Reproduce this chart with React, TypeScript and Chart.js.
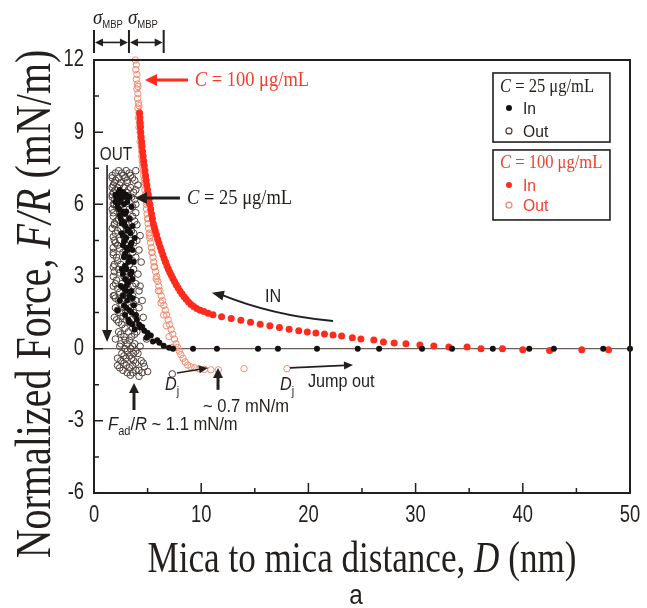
import React, { useEffect, useRef } from "react";
import { Chart, registerables } from "chart.js";

Chart.register(...registerables);

// ---------- axis ticks ----------
const xTicks = [0, 10, 20, 30, 40, 50];
const xMinorTicks = [5, 15, 25, 35, 45];
const yTicks = [-6, -3, 0, 3, 6, 9, 12];
const yMinorTicks = [-4.5, -1.5, 1.5, 4.5, 7.5, 10.5];

// ---------- C = 25 ug/mL, approach (In, filled black) ----------
const in25D = [
  2.4, 2.3, 2.7, 2.0, 3.0, 2.1, 2.9, 3.3, 2.5, 2.4, 3.1, 2.8, 2.2, 3.5, 2.7, 3.0, 2.4, 2.5, 3.3, 2.8,
  2.9, 3.6, 3.2, 2.6, 3.4, 3.0, 3.8, 2.8, 2.7, 3.4, 3.1, 3.6, 2.9, 2.8, 3.3, 3.2, 3.7, 2.9, 2.6, 3.0,
  3.4, 2.7, 2.9, 3.6, 3.2, 2.5, 3.0, 3.0, 3.5, 2.7, 3.3, 2.4, 3.1, 2.8, 3.7, 2.2, 3.3, 2.9, 3.9, 3.2,
  4.0, 3.6, 4.2, 4.3, 4.7, 5.0, 5.3, 5.9, 6.1, 6.5, 7.0,
  2.2, 2.6, 2.0, 2.35, 2.9, 2.6, 3.1, 2.7, 3.5, 3.0, 3.3, 3.5, 3.1, 2.8, 3.6, 3.0, 3.5, 3.3, 3.8, 4.5,
  4.9, 5.5,
  7.37, 9.24, 11.47, 15.3, 17.16, 20.8, 24.6, 26.6, 30.6, 33.4, 37.2, 40.6, 42.9, 47.5, 50.0,
];
const in25F = [
  6.6, 6.5, 6.5, 6.4, 6.4, 6.3, 6.3, 6.3, 6.2, 6.1, 6.1, 6.0, 5.9, 5.9, 5.7, 5.7, 5.55, 5.4, 5.4, 5.25,
  5.1, 5.1, 4.95, 4.8, 4.8, 4.6, 4.6, 4.45, 4.3, 4.3, 4.1, 4.1, 3.95, 3.8, 3.8, 3.6, 3.6, 3.45, 3.3, 3.3,
  3.1, 3.1, 2.9, 2.9, 2.75, 2.6, 2.6, 2.4, 2.4, 2.2, 2.2, 2.0, 2.0, 1.8, 1.8, 1.6, 1.6, 1.4, 1.4, 1.2,
  1.2, 1.0, 1.0, 0.9, 0.75, 0.65, 0.55, 0.35, 0.25, 0.12, 0.04,
  6.2, 6.35, 6.1, 5.8, 5.6, 5.2, 4.9, 4.7, 4.4, 4.2, 3.7, 3.2, 2.8, 2.5, 2.1, 1.7, 1.5, 1.1, 0.8, 0.9,
  0.45, 0.3,
  0, 0, 0, 0, 0, 0, 0, 0, 0, 0, 0, 0, 0, 0, 0,
];

// ---------- C = 25 ug/mL, separation (Out, open dark) ----------
const out25D = [
  2.0, 2.6, 3.3, 1.7, 2.3, 2.9, 3.6, 1.9, 2.5, 3.1, 1.7, 2.2, 2.8, 3.4, 1.8, 3.0, 3.7, 1.7, 2.1, 3.5,
  1.9, 2.6, 3.9, 1.7, 2.3, 3.3, 1.8, 2.9, 3.6, 2.1, 3.8, 1.7, 2.5, 3.2, 2.0, 3.7, 1.9, 2.4, 3.4, 4.0,
  2.2, 3.0, 1.8, 2.7, 3.6, 2.1, 3.9, 1.9, 2.5, 3.3, 2.3, 3.7, 1.8, 2.8, 3.5, 2.0, 2.6, 3.9, 2.2, 3.2,
  1.9, 2.7, 3.6, 2.3, 3.9, 2.0, 2.9, 3.4, 2.4, 3.7, 2.1, 3.0, 3.5, 2.6, 3.8, 2.3, 3.2, 4.0, 2.8, 3.5,
  2.5, 3.1, 3.8, 2.9, 3.4, 2.6, 3.7, 2.2, 3.0, 3.5, 2.8, 3.9, 2.4, 3.3, 3.1, 3.6, 4.5, 3.4, 7.3,
  2.3, 3.0, 3.9, 1.7, 2.7, 3.4, 2.0, 3.1, 3.8, 1.8, 2.4, 2.0, 3.2, 3.9, 1.7, 2.6, 1.9, 3.8, 2.1, 3.6,
  1.8, 2.6, 3.9, 2.3, 3.3, 1.9, 3.0, 4.0, 2.2, 3.5, 1.8, 2.8, 2.0, 3.7, 2.4, 3.2, 1.8, 2.9, 2.2, 3.6,
  1.8, 2.9, 2.4, 3.4, 2.1, 3.3, 1.8, 3.6, 2.4, 3.0, 2.0, 3.4, 2.6, 3.7, 2.2, 3.1, 2.7, 3.9, 2.3, 3.3,
  2.9, 3.6, 2.5, 3.8, 2.9, 3.3, 2.4, 3.6, 3.1, 3.9, 2.8, 3.3, 2.5, 3.7, 3.0, 3.6, 2.7, 3.9, 4.2,
  4.1, 4.3, 4.2, 4.4, 4.1, 4.3, 4.2, 4.5, 4.2, 4.6, 4.4, 4.9, 4.3, 4.1, 4.6, 4.4, 5.0, 4.2, 4.7,
  1.8, 1.9, 1.8, 1.9, 1.8, 1.9, 2.0, 2.2,
];
const out25F = [
  7.3, 7.3, 7.3, 7.1, 7.1, 7.1, 7.1, 6.9, 6.9, 6.9, 6.7, 6.7, 6.7, 6.7, 6.5, 6.5, 6.5, 6.3, 6.3, 6.3,
  6.0, 6.0, 6.0, 5.8, 5.8, 5.8, 5.5, 5.5, 5.5, 5.3, 5.3, 5.0, 5.0, 5.0, 4.8, 4.8, 4.5, 4.5, 4.5, 4.5,
  4.3, 4.3, 4.0, 4.0, 4.0, 3.8, 3.8, 3.5, 3.5, 3.5, 3.3, 3.3, 3.0, 3.0, 3.0, 2.7, 2.7, 2.7, 2.5, 2.5,
  2.2, 2.2, 2.2, 2.0, 2.0, 1.7, 1.7, 1.7, 1.5, 1.5, 1.2, 1.2, 1.2, 1.0, 1.0, 0.7, 0.7, 0.7, 0.5, 0.5,
  0.2, 0.2, 0.2, 0.0, 0.0, -0.2, -0.2, -0.4, -0.4, -0.4, -0.6, -0.6, -0.8, -0.8, -1.0, -1.0, -1.0, -1.1, -1.05,
  7.4, 7.4, 7.4, 7.2, 7.2, 7.2, 7.0, 7.0, 7.0, 6.8, 6.8, 6.6, 6.6, 6.6, 6.4, 6.4, 6.2, 6.2, 5.9, 5.9,
  5.65, 5.65, 5.65, 5.4, 5.4, 5.15, 5.15, 5.15, 4.9, 4.9, 4.65, 4.65, 4.4, 4.4, 4.15, 4.15, 3.9, 3.9, 3.65, 3.65,
  3.4, 3.4, 3.15, 3.15, 2.85, 2.85, 2.6, 2.6, 2.35, 2.35, 2.1, 2.1, 1.85, 1.85, 1.6, 1.6, 1.35, 1.35, 1.1, 1.1,
  0.85, 0.85, 0.6, 0.6, 0.35, 0.35, 0.1, 0.1, -0.1, -0.1, -0.3, -0.3, -0.5, -0.5, -0.7, -0.7, -0.9, -0.9, -0.9,
  6.8, 4.7, 4.1, 3.6, 3.1, 2.6, 2.4, 2.0, 1.7, 1.3, 0.9, 0.4, 0.1, -0.2, -0.6, -0.5, -0.95, -1.15, -0.75,
  6.0, 5.2, 4.2, 3.2, 2.2, 1.3, 0.4, -0.7,
];

// ---------- C = 100 ug/mL, approach (In, filled red) ----------
const in100D = [
  4.25, 4.28, 4.3, 4.33, 4.36, 4.4, 4.44, 4.48, 4.53, 4.58, 4.63, 4.69, 4.75, 4.81, 4.87, 4.93, 5.0, 5.07,
  5.14, 5.21, 5.29, 5.37, 5.45, 5.53, 5.62, 5.72, 5.83, 5.94, 6.06, 6.18, 6.3, 6.42, 6.54, 6.67, 6.8, 6.93,
  7.07, 7.21, 7.36, 7.51, 7.67, 7.84, 8.02, 8.2, 8.4, 8.6, 8.82, 9.05, 9.3, 9.58, 9.9, 10.25, 10.65, 11.1,
  11.9, 12.8, 13.7, 14.6, 15.5, 16.4, 17.3, 18.2, 19.1, 19.9, 20.7, 21.5, 22.3, 23.1, 24.1, 24.9, 26.1, 27.0,
  28.0, 29.1, 30.4, 31.7, 33.1, 34.8, 36.1, 38.1, 40.0, 42.5, 45.5, 48.0,
];
const in100F = [
  9.8, 9.6, 9.4, 9.2, 9.0, 8.8, 8.6, 8.4, 8.2, 8.0, 7.8, 7.6, 7.4, 7.2, 7.0, 6.8, 6.6, 6.4,
  6.2, 6.0, 5.8, 5.6, 5.4, 5.2, 5.05, 4.9, 4.72, 4.55, 4.38, 4.22, 4.06, 3.9, 3.75, 3.6, 3.45, 3.31,
  3.18, 3.05, 2.92, 2.79, 2.66, 2.53, 2.4, 2.28, 2.16, 2.05, 1.94, 1.84, 1.75, 1.67, 1.6, 1.54, 1.47, 1.41,
  1.33, 1.25, 1.18, 1.1, 1.02, 0.95, 0.88, 0.81, 0.75, 0.69, 0.65, 0.61, 0.57, 0.53, 0.45, 0.4, 0.36, 0.28,
  0.24, 0.2, 0.15, 0.11, 0.07, 0.07, 0.0, 0.0, -0.05, -0.08, -0.05, -0.05,
];

// ---------- C = 100 ug/mL, separation (Out, open red) ----------
const out100D = [
  3.85, 3.95, 3.9, 4.0, 3.95, 4.05, 4.0, 4.1, 4.05, 4.15, 4.1, 4.2, 4.15, 4.25, 4.2, 4.3, 4.35, 4.3,
  4.4, 4.45, 4.45, 4.5, 4.55, 4.6, 4.62, 4.68, 4.7, 4.75, 4.8, 4.82, 4.88, 4.9, 4.95, 5.0, 5.05, 5.1,
  5.15, 5.2, 5.28, 5.35, 5.42, 5.5, 5.58, 5.66, 5.75, 5.85, 5.95, 6.05, 6.15, 6.27, 6.39, 6.52, 6.65, 6.78,
  6.92, 7.05, 7.2, 7.35, 7.5, 7.65, 7.8, 7.95, 8.1, 8.3, 8.5, 8.75, 9.05, 9.4, 9.8, 10.3, 10.9, 11.6,
  14.0, 18.0,
  4.1, 4.2, 4.35, 4.45, 4.6, 4.75, 4.9, 5.05, 5.2, 5.4, 5.6, 5.8, 6.0, 6.25, 6.5, 6.75, 7.0, 7.3,
];
const out100F = [
  12.0, 11.8, 11.6, 11.4, 11.2, 11.0, 10.8, 10.6, 10.4, 10.2, 10.0, 9.8, 9.6, 9.4, 9.2, 9.0, 8.8, 8.6,
  8.4, 8.2, 8.0, 7.8, 7.6, 7.4, 7.2, 7.0, 6.8, 6.6, 6.4, 6.2, 6.0, 5.8, 5.6, 5.4, 5.2, 5.0,
  4.8, 4.6, 4.4, 4.2, 4.0, 3.8, 3.6, 3.4, 3.2, 3.0, 2.8, 2.6, 2.4, 2.2, 2.0, 1.8, 1.6, 1.4,
  1.2, 1.0, 0.8, 0.6, 0.4, 0.2, 0.05, -0.1, -0.25, -0.4, -0.55, -0.68, -0.76, -0.8, -0.84, -0.86, -0.88, -0.88,
  -0.83, -0.83,
  10.9, 10.1, 9.3, 8.5, 7.7, 6.9, 6.1, 5.4, 4.7, 4.0, 3.4, 2.9, 2.4, 1.9, 1.4, 0.95, 0.5, 0.05,
];

// ---------- styles ----------
const RED = "#ff2b1c";
const RED_TEXT = "#f0402c";
const RED_OPEN = "#f5876c";
const BLACK = "#141010";
const DARK_OPEN = "#4e403a";
const INK = "#231f1c";
const SERIF = "'Liberation Serif', 'Times New Roman', serif";
const SANS = "'Liberation Sans', Arial, sans-serif";

type Seg = { t: string; f: string; dy?: number; color?: string };

function rich(
  ctx: CanvasRenderingContext2D,
  segs: Seg[],
  x: number,
  y: number,
  opts: { color: string; sx?: number; align?: "left" | "center" | "right"; rot?: number; baseline?: CanvasTextBaseline }
) {
  ctx.save();
  ctx.translate(x, y);
  if (opts.rot) ctx.rotate(opts.rot);
  ctx.scale(opts.sx ?? 1, 1);
  let total = 0;
  for (const s of segs) {
    ctx.font = s.f;
    total += ctx.measureText(s.t).width;
  }
  let cx = opts.align === "center" ? -total / 2 : opts.align === "right" ? -total : 0;
  ctx.textAlign = "left";
  ctx.textBaseline = opts.baseline ?? "alphabetic";
  for (const s of segs) {
    ctx.font = s.f;
    ctx.fillStyle = s.color ?? opts.color;
    ctx.fillText(s.t, cx, s.dy ?? 0);
    cx += ctx.measureText(s.t).width;
  }
  ctx.restore();
}

function arrowHead(ctx: CanvasRenderingContext2D, x1: number, y1: number, x2: number, y2: number, len: number, half: number, color: string) {
  const a = Math.atan2(y2 - y1, x2 - x1);
  ctx.save();
  ctx.fillStyle = color;
  ctx.beginPath();
  ctx.moveTo(x2, y2);
  ctx.lineTo(x2 - len * Math.cos(a) + half * Math.sin(a), y2 - len * Math.sin(a) - half * Math.cos(a));
  ctx.lineTo(x2 - len * Math.cos(a) - half * Math.sin(a), y2 - len * Math.sin(a) + half * Math.cos(a));
  ctx.closePath();
  ctx.fill();
  ctx.restore();
}

function arrow(ctx: CanvasRenderingContext2D, x1: number, y1: number, x2: number, y2: number, color: string, lw: number, len: number, half: number) {
  const a = Math.atan2(y2 - y1, x2 - x1);
  ctx.save();
  ctx.strokeStyle = color;
  ctx.lineWidth = lw;
  ctx.beginPath();
  ctx.moveTo(x1, y1);
  ctx.lineTo(x2 - (len - 1) * Math.cos(a), y2 - (len - 1) * Math.sin(a));
  ctx.stroke();
  ctx.restore();
  arrowHead(ctx, x1, y1, x2, y2, len, half, color);
}

const decorPlugin = {
  id: "decor",
  beforeDatasetsDraw(chart: any) {
    const { ctx, chartArea: ca, scales } = chart;
    const y0 = scales.y.getPixelForValue(0);
    ctx.save();
    ctx.strokeStyle = "#6a5f5a";
    ctx.lineWidth = 1.2;
    ctx.beginPath();
    ctx.moveTo(ca.left, y0);
    ctx.lineTo(ca.right, y0);
    ctx.stroke();
    ctx.restore();
  },
  afterDatasetsDraw(chart: any) {
    const { ctx, chartArea: ca, scales } = chart;
    const X = (v: number) => scales.x.getPixelForValue(v);
    const Y = (v: number) => scales.y.getPixelForValue(v);

    // frame
    ctx.save();
    ctx.strokeStyle = INK;
    ctx.lineWidth = 2;
    ctx.strokeRect(ca.left, ca.top, ca.right - ca.left, ca.bottom - ca.top);
    // inward ticks
    ctx.lineWidth = 1.5;
    ctx.beginPath();
    for (const v of xTicks) { ctx.moveTo(X(v), ca.bottom); ctx.lineTo(X(v), ca.bottom - 10); }
    for (const v of xMinorTicks) { ctx.moveTo(X(v), ca.bottom); ctx.lineTo(X(v), ca.bottom - 5); }
    for (const v of yTicks) { ctx.moveTo(ca.left, Y(v)); ctx.lineTo(ca.left + 9, Y(v)); }
    for (const v of yMinorTicks) { ctx.moveTo(ca.left, Y(v)); ctx.lineTo(ca.left + 5, Y(v)); }
    ctx.stroke();
    ctx.restore();

    // tick labels
    const tf = `23px ${SANS}`;
    for (const v of xTicks) rich(ctx, [{ t: String(v), f: tf }], X(v), ca.bottom + 23, { color: INK, sx: 0.8, align: "center", baseline: "middle" });
    for (const v of yTicks) rich(ctx, [{ t: String(v), f: tf }], ca.left - 10, Y(v), { color: INK, sx: 0.8, align: "right", baseline: "middle" });

    // axis titles
    const tF = `45px ${SERIF}`;
    const tFi = `italic 45px ${SERIF}`;
    rich(ctx, [{ t: "Mica to mica distance, ", f: tF }, { t: "D", f: tFi }, { t: " (nm)", f: tF }], (ca.left + ca.right) / 2, 572, { color: INK, sx: 0.78, align: "center" });
    const yF = `50px ${SERIF}`;
    const yFi = `italic 50px ${SERIF}`;
    rich(ctx, [{ t: "Normalized Force, ", f: yF }, { t: "F/R", f: yFi }, { t: " (mN/m)", f: yF }], 50, 304, { color: INK, sx: 0.8, align: "center", rot: -Math.PI / 2 });

    // caption
    rich(ctx, [{ t: "a", f: `27px ${SANS}` }], 356, 604, { color: INK, sx: 0.9, align: "center" });

    // sigma_MBP brackets
    ctx.save();
    ctx.strokeStyle = INK;
    ctx.lineWidth = 2;
    const bx = [0, 3.26, 6.5].map(X);
    ctx.beginPath();
    for (const b of bx) { ctx.moveTo(b, Y(13.25)); ctx.lineTo(b, Y(12.29)); }
    ctx.stroke();
    ctx.restore();
    const ay = Y(12.73);
    for (let i = 0; i < 2; i++) {
      const a = bx[i] + 1, b = bx[i + 1] - 1;
      ctx.save(); ctx.strokeStyle = INK; ctx.lineWidth = 1.6;
      ctx.beginPath(); ctx.moveTo(a + 6, ay); ctx.lineTo(b - 6, ay); ctx.stroke(); ctx.restore();
      arrowHead(ctx, b, ay, a, ay, 8, 4, INK);
      arrowHead(ctx, a, ay, b, ay, 8, 4, INK);
    }
    for (let i = 0; i < 2; i++) {
      rich(ctx, [{ t: "σ", f: `italic 20px ${SERIF}` }, { t: "MBP", f: `10px ${SANS}`, dy: 4 }], bx[i] - 1, Y(13.5), { color: INK, sx: 0.95 });
    }

    // C = 100 label
    arrow(ctx, X(8.77), Y(11.17), X(4.76), Y(11.17), RED, 3, 12, 6);
    rich(ctx, [{ t: "C", f: `italic 21px ${SERIF}` }, { t: " = 100 μg/mL", f: `21px ${SERIF}` }], X(9.4), Y(10.92), { color: RED_TEXT, sx: 0.88 });

    // C = 25 label
    arrow(ctx, X(8.02), Y(6.26), X(3.82), Y(6.26), INK, 3, 12, 6);
    rich(ctx, [{ t: "C", f: `italic 21px ${SERIF}` }, { t: " = 25 μg/mL", f: `21px ${SERIF}` }], X(8.68), Y(6.01), { color: INK, sx: 0.88 });

    // OUT
    rich(ctx, [{ t: "OUT", f: `18px ${SANS}` }], X(2.05), Y(7.84), { color: INK, sx: 0.85, align: "center" });
    arrow(ctx, X(1.22), Y(7.63), X(1.22), Y(0.28), INK, 1.6, 12, 5);

    // IN
    rich(ctx, [{ t: "IN", f: `18px ${SANS}` }], X(15.95), Y(1.94), { color: INK, sx: 0.9 });
    ctx.save();
    ctx.strokeStyle = INK;
    ctx.lineWidth = 2;
    ctx.beginPath();
    ctx.moveTo(X(22.3), Y(1.15));
    ctx.quadraticCurveTo(X(16.56), Y(1.39), X(11.8), Y(2.26));
    ctx.stroke();
    ctx.restore();
    arrowHead(ctx, X(14.0), Y(2.0), X(11.0), Y(2.32), 12, 5, INK);

    // D_j and jump-out
    const dj = (xv: number) =>
      rich(ctx, [{ t: "D", f: `italic 18px ${SANS}` }, { t: "j", f: `12px ${SANS}`, dy: 5 }], X(xv), Y(-1.73), { color: INK, sx: 0.9 });
    dj(6.62);
    arrow(ctx, X(7.74), Y(-1.01), X(10.63), Y(-0.8), INK, 1.6, 9, 4);
    dj(17.35);
    arrow(ctx, X(18.28), Y(-0.8), X(24.16), Y(-0.68), INK, 1.6, 9, 4);
    rich(ctx, [{ t: "Jump out", f: `18px ${SANS}` }], X(19.96), Y(-1.59), { color: INK, sx: 0.9 });

    // 0.7 mN/m
    arrow(ctx, X(11.57), Y(-1.71), X(11.57), Y(-0.8), INK, 3, 10, 5);
    rich(ctx, [{ t: "~ 0.7 mN/m", f: `18px ${SANS}` }], X(10.17), Y(-2.63), { color: INK, sx: 0.92 });

    // F_ad/R
    arrow(ctx, X(3.73), Y(-2.55), X(3.73), Y(-1.43), INK, 3, 10, 5);
    rich(
      ctx,
      [
        { t: "F", f: `italic 18px ${SANS}` },
        { t: "ad", f: `12px ${SANS}`, dy: 5 },
        { t: "/", f: `18px ${SANS}` },
        { t: "R", f: `italic 18px ${SANS}` },
        { t: " ~ 1.1 mN/m", f: `18px ${SANS}` },
      ],
      X(1.31),
      Y(-3.38),
      { color: INK, sx: 0.92 }
    );

    // legend boxes
    const box = (d1: number, f1: number, d2: number, f2: number) => {
      ctx.save();
      ctx.strokeStyle = INK;
      ctx.lineWidth = 1.6;
      ctx.strokeRect(X(d1), Y(f1), X(d2) - X(d1), Y(f2) - Y(f1));
      ctx.restore();
    };
    const marker = (d: number, f: number, filled: boolean, color: string) => {
      ctx.save();
      ctx.beginPath();
      ctx.arc(X(d), Y(f), 3, 0, Math.PI * 2);
      if (filled) { ctx.fillStyle = color; ctx.fill(); }
      else { ctx.strokeStyle = color; ctx.lineWidth = 1.2; ctx.stroke(); }
      ctx.restore();
    };
    box(37.22, 11.46, 48.13, 8.59);
    rich(ctx, [{ t: "C", f: `italic 18px ${SERIF}` }, { t: " = 25 μg/mL", f: `18px ${SERIF}` }], X(37.87), Y(10.67), { color: INK, sx: 0.92 });
    marker(38.71, 10.0, true, BLACK);
    rich(ctx, [{ t: "In", f: `17px ${SANS}` }], X(40.02), Y(9.75), { color: INK, sx: 0.92 });
    marker(38.71, 9.05, false, DARK_OPEN);
    rich(ctx, [{ t: "Out", f: `17px ${SANS}` }], X(40.02), Y(8.8), { color: INK, sx: 0.92 });

    box(37.22, 8.26, 48.13, 5.35);
    rich(ctx, [{ t: "C", f: `italic 18px ${SERIF}` }, { t: " = 100 μg/mL", f: `18px ${SERIF}` }], X(37.87), Y(7.51), { color: RED_TEXT, sx: 0.92 });
    marker(38.71, 6.8, true, RED);
    rich(ctx, [{ t: "In", f: `17px ${SANS}` }], X(40.02), Y(6.55), { color: RED_TEXT, sx: 0.92 });
    marker(38.71, 5.97, false, RED_OPEN);
    rich(ctx, [{ t: "Out", f: `17px ${SANS}` }], X(40.02), Y(5.72), { color: RED_TEXT, sx: 0.92 });
  },
};

const pts = (ds: number[], fs: number[]) => ds.map((d, i) => ({ x: d, y: fs[i] }));

export default function App() {
  const ref = useRef<HTMLCanvasElement | null>(null);
  useEffect(() => {
    document.body.style.margin = "0";
    const canvas = ref.current;
    if (!canvas) return;
    const chart = new Chart(canvas, {
      type: "scatter",
      data: {
        datasets: [
          {
            label: "C = 25 In",
            data: pts(in25D, in25F),
            pointRadius: 3,
            pointBackgroundColor: BLACK,
            pointBorderColor: BLACK,
            pointBorderWidth: 0,
            order: 1,
            clip: false,
          },
          {
            label: "C = 25 Out",
            data: pts(out25D, out25F),
            pointRadius: 3.3,
            pointBackgroundColor: "rgba(255,255,255,0)",
            pointBorderColor: DARK_OPEN,
            pointBorderWidth: 1,
            order: 2,
            clip: false,
          },
          {
            label: "C = 100 In",
            data: pts(in100D, in100F),
            pointRadius: 3.5,
            pointBackgroundColor: RED,
            pointBorderColor: RED,
            pointBorderWidth: 0,
            order: 3,
            clip: false,
          },
          {
            label: "C = 100 Out",
            data: pts(out100D, out100F),
            pointRadius: 3.2,
            pointBackgroundColor: "rgba(255,255,255,0)",
            pointBorderColor: RED_OPEN,
            pointBorderWidth: 1,
            order: 4,
            clip: false,
          },
        ],
      },
      options: {
        responsive: false,
        animation: false,
        devicePixelRatio: 1,
        layout: { padding: { left: 94, right: 17, top: 60, bottom: 115 } },
        plugins: { legend: { display: false }, tooltip: { enabled: false } },
        scales: {
          x: { type: "linear", min: 0, max: 50, display: false },
          y: { type: "linear", min: -6, max: 12, display: false },
        },
      },
      plugins: [decorPlugin],
    });
    return () => chart.destroy();
  }, []);
  return (
    <div style={{ width: 647, height: 608, background: "#fff" }}>
      <canvas ref={ref} width={647} height={608} style={{ display: "block" }} />
    </div>
  );
}
